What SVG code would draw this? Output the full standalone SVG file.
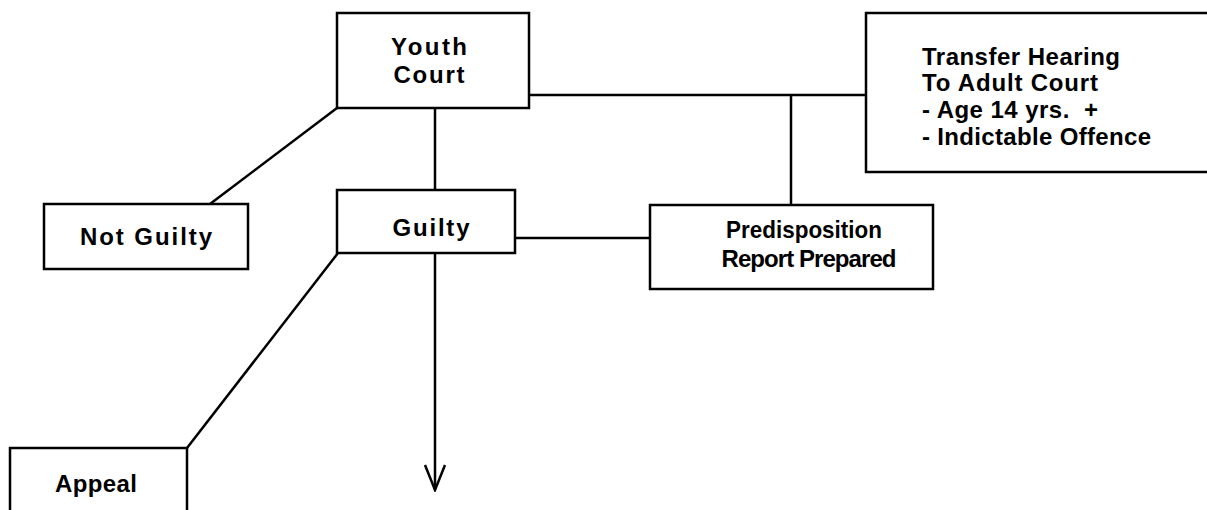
<svg xmlns="http://www.w3.org/2000/svg" width="1207" height="510" viewBox="0 0 1207 510">
<defs>
<style>
.box{fill:#fff;stroke:#000;stroke-width:2.5}
.ln{fill:none;stroke:#000;stroke-width:2.5}
text{font-family:"Liberation Sans",Arial,sans-serif;font-weight:bold;font-size:24px;fill:#000}
.c{text-anchor:middle}
</style>
<marker id="arr" markerUnits="userSpaceOnUse" markerWidth="30" markerHeight="26" viewBox="-28 -13 30 26" refX="0" refY="0" orient="auto">
<path d="M -25 -10 L 0 0 L -25 10" fill="none" stroke="#000" stroke-width="2.5"/>
</marker>
</defs>
<rect width="1207" height="510" fill="#fff"/>
<g id="connectors">
<line class="ln" x1="529" y1="95" x2="866" y2="95"/>
<line class="ln" x1="791" y1="95" x2="791" y2="205"/>
<line class="ln" x1="435" y1="108" x2="435" y2="190"/>
<line class="ln" x1="337" y1="108" x2="210" y2="204"/>
<line class="ln" x1="515" y1="238" x2="650" y2="238"/>
<line class="ln" x1="435" y1="253" x2="435" y2="490" marker-end="url(#arr)"/>
<line class="ln" x1="338" y1="253" x2="187" y2="448"/>
</g>
<g id="youth-court">
<rect class="box" x="337" y="13" width="192" height="95"/>
<text class="c" x="429" y="55" textLength="76">Youth</text>
<text class="c" x="429" y="83" textLength="71">Court</text>
</g>
<g id="transfer-hearing">
<rect class="box" x="866" y="13" width="360" height="159"/>
<text x="922" y="65" textLength="198">Transfer Hearing</text>
<text x="922" y="91" textLength="176">To Adult Court</text>
<text x="922" y="118" textLength="176" xml:space="preserve">- Age 14 yrs.  +</text>
<text x="922" y="145" textLength="229">- Indictable Offence</text>
</g>
<g id="not-guilty">
<rect class="box" x="44" y="204" width="204" height="65"/>
<text class="c" x="146" y="245" textLength="132">Not Guilty</text>
</g>
<g id="guilty">
<rect class="box" x="337" y="190" width="178" height="63"/>
<text class="c" x="431" y="236" textLength="77">Guilty</text>
</g>
<g id="predisposition">
<rect class="box" x="650" y="205" width="283" height="84"/>
<text class="c" x="804" y="238" textLength="156" lengthAdjust="spacingAndGlyphs">Predisposition</text>
<text class="c" x="809" y="267" textLength="175">Report Prepared</text>
</g>
<g id="appeal">
<rect class="box" x="10" y="448" width="177" height="80"/>
<text class="c" x="96" y="492" textLength="82">Appeal</text>
</g>
</svg>
